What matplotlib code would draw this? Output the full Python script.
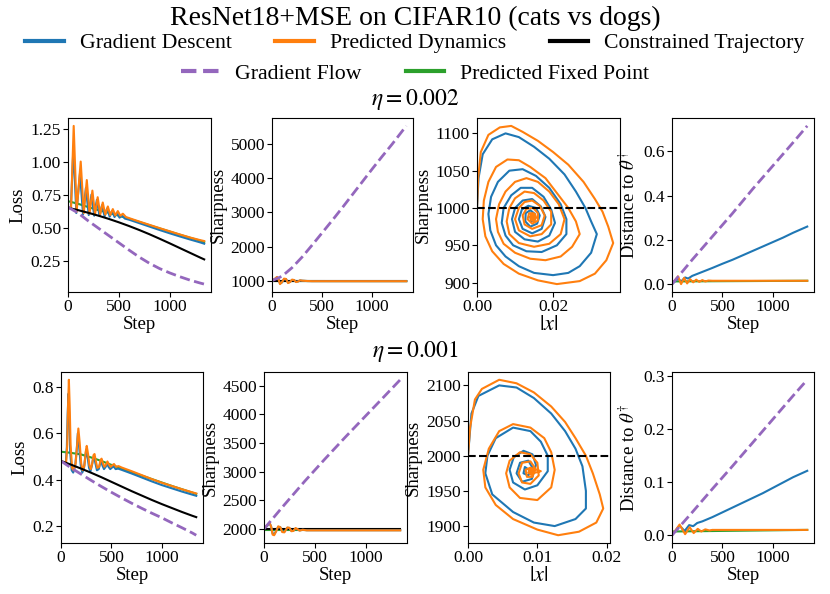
import matplotlib
matplotlib.use("Agg")
import matplotlib.pyplot as plt
from matplotlib.lines import Line2D

plt.rcParams['font.family'] = 'serif'
plt.rcParams['font.serif'] = ['Liberation Serif', 'DejaVu Serif']
plt.rcParams['mathtext.fontset'] = 'stix'

# ---------------- data: eta = 0.002 ----------------
eta_labels = [r'$\eta = 0.002$', r'$\eta = 0.001$']
sharp_threshold = [1000, 2000]

smooth_steps = [0, 100, 200, 300, 400, 500, 600, 700, 800, 900, 1000, 1100, 1200, 1300, 1340]

gf_loss1 = [0.655, 0.61, 0.55, 0.495, 0.44, 0.385, 0.33, 0.277, 0.23, 0.19, 0.157, 0.128, 0.102, 0.08, 0.072]
ct_loss1 = [0.65, 0.632, 0.612, 0.59, 0.566, 0.54, 0.512, 0.482, 0.45, 0.416, 0.381, 0.345, 0.309, 0.273, 0.259]
fp_loss1 = [0.70, 0.68, 0.655, 0.632, 0.612, 0.59, 0.567, 0.543, 0.518, 0.494, 0.47, 0.446, 0.423, 0.401, 0.39]

pd_loss1_steps = [0, 30, 56, 85, 125, 155, 185, 212, 240, 266, 292, 317, 342, 367, 392, 416, 441, 465,
                  490, 515, 540, 570, 600, 700, 800, 900, 1000, 1100, 1200, 1300, 1340]
pd_loss1 = [0.655, 0.645, 1.27, 0.62, 1.00, 0.61, 0.86, 0.605, 0.78, 0.60, 0.73, 0.60, 0.69, 0.598, 0.66,
            0.595, 0.64, 0.592, 0.625, 0.59, 0.605, 0.58, 0.572, 0.546, 0.521, 0.496, 0.472, 0.448, 0.425,
            0.405, 0.398]
gd_loss1_steps = [0, 28, 53, 82, 118, 148, 176, 204, 231, 258, 284, 310, 335, 360, 385, 410, 434, 458,
                  482, 507, 532, 560, 600, 700, 800, 900, 1000, 1100, 1200, 1300, 1340]
gd_loss1 = [0.655, 0.645, 1.10, 0.61, 0.91, 0.60, 0.80, 0.595, 0.75, 0.59, 0.71, 0.588, 0.67, 0.585, 0.645,
            0.583, 0.625, 0.58, 0.61, 0.575, 0.59, 0.568, 0.56, 0.534, 0.508, 0.482, 0.457, 0.433, 0.41,
            0.388, 0.378]

gf_sharp1 = [1000, 1130, 1380, 1690, 2040, 2400, 2760, 3130, 3510, 3890, 4270, 4640, 5000, 5380, 5530]
osc_steps1 = [0, 30, 50, 65, 80, 100, 120, 140, 160, 180, 200, 220, 240, 260, 280, 300, 350, 400, 1340]
pd_sharp1 = [1000, 1060, 1110, 1040, 900, 960, 1060, 1050, 930, 960, 1030, 1020, 960, 975, 1010, 1000, 990, 985, 985]
gd_sharp1 = [1000, 1050, 1095, 1050, 915, 950, 1045, 1045, 945, 965, 1020, 1015, 970, 980, 1005, 998, 990, 988, 988]
ends = [0, 1340]
ct_sharp1 = [1000, 1000]
fp_sharp1 = [990, 988]

pd_x1 = [0.000, 0.0003, 0.001, 0.003, 0.006, 0.009, 0.012, 0.016, 0.020, 0.024, 0.028, 0.031, 0.033, 0.0345,
         0.0358, 0.034, 0.031, 0.027, 0.021, 0.016, 0.011, 0.007, 0.004, 0.0022, 0.0015, 0.0018, 0.003, 0.005,
         0.008, 0.011, 0.014, 0.018, 0.021, 0.024, 0.026, 0.027, 0.025, 0.022, 0.018, 0.014, 0.010, 0.007,
         0.0055, 0.005, 0.0058, 0.0075, 0.010,
         0.013, 0.016, 0.019, 0.0215, 0.023, 0.022, 0.019, 0.015, 0.011, 0.0085, 0.0078, 0.0085, 0.010,
         0.0125, 0.015, 0.0175, 0.0195, 0.0195, 0.017, 0.014, 0.011, 0.010, 0.011, 0.0125,
         0.0145, 0.0165, 0.0178, 0.017, 0.0145, 0.0125, 0.012, 0.013,
         0.0148, 0.016, 0.016, 0.0145, 0.0133, 0.0137, 0.0148, 0.0152, 0.0147, 0.0141, 0.0143, 0.0150,
         0.0152, 0.0155, 0.0150, 0.0143, 0.0141, 0.0146, 0.0151, 0.0152, 0.0147, 0.0144, 0.0148, 0.0150]
pd_s1 = [1000, 1040, 1075, 1098, 1108, 1110, 1102, 1090, 1075, 1058, 1035, 1012, 995, 975,
         953, 930, 912, 902, 898, 903, 912, 925, 942, 962, 985, 1010, 1035, 1055,
         1065, 1064, 1055, 1040, 1020, 1000, 982, 965, 948, 935, 930, 932, 940, 952,
         968, 985, 1005, 1022, 1035,
         1040, 1035, 1022, 1005, 985, 965, 952, 948, 953, 965, 982, 1000, 1013,
         1022, 1020, 1010, 995, 978, 965, 962, 970, 985, 1000, 1008,
         1010, 1003, 990, 977, 972, 978, 990, 999,
         1000, 993, 983, 979, 985, 993, 993, 988, 983, 986, 992, 990,
         992, 987, 983, 984, 989, 992, 990, 986, 984, 987, 990, 987]
gd_x1 = [0.0, 0.0004, 0.0015, 0.004, 0.0075, 0.011, 0.015, 0.019, 0.023, 0.026, 0.0285, 0.030, 0.0315,
         0.030, 0.027, 0.024, 0.020, 0.015, 0.011, 0.0075, 0.005, 0.0035, 0.003, 0.0037, 0.0055,
         0.0085, 0.012, 0.0155, 0.019, 0.022, 0.0235, 0.0235, 0.021, 0.017, 0.013, 0.0095, 0.0075, 0.0065,
         0.007, 0.009,
         0.0115, 0.0145, 0.0175, 0.0195, 0.0205, 0.019, 0.016, 0.0125, 0.010, 0.0092, 0.010,
         0.012, 0.0145, 0.0168, 0.018, 0.017, 0.0145, 0.012, 0.011, 0.0118,
         0.0135, 0.0155, 0.0165, 0.0158, 0.014, 0.0127, 0.0128, 0.014, 0.0152, 0.0152, 0.0143, 0.014]
gd_s1 = [1000, 1040, 1072, 1092, 1100, 1095, 1082, 1066, 1045, 1022, 1000, 982, 965,
         940, 922, 913, 910, 913, 922, 935, 950, 970, 992, 1015, 1035,
         1050, 1052, 1043, 1027, 1005, 985, 965, 950, 941, 942, 950, 963, 980,
         1000, 1017,
         1027, 1027, 1015, 998, 980, 963, 955, 958, 968, 985, 1000,
         1010, 1012, 1002, 988, 972, 966, 972, 985, 998,
         1003, 1000, 990, 979, 975, 982, 993, 997, 992, 984, 982, 988]

dist_steps = [0, 200, 400, 600, 800, 1000, 1200, 1340]
gf_dist1 = [0.0, 0.11, 0.215, 0.32, 0.43, 0.535, 0.64, 0.715]
gd_dist1_steps = [0, 60, 90, 130, 160, 200, 300, 400, 500, 600, 700, 800, 900, 1000, 1100, 1200, 1340]
gd_dist1 = [0.0, 0.025, 0.012, 0.03, 0.025, 0.037, 0.055, 0.073, 0.092, 0.11, 0.13, 0.15, 0.17, 0.19, 0.21, 0.232, 0.26]
pd_dist1_steps = [0, 60, 90, 120, 150, 180, 210, 240, 270, 300, 330, 360, 400, 1340]
pd_dist1 = [0.0, 0.035, 0.0, 0.028, 0.003, 0.022, 0.008, 0.02, 0.01, 0.018, 0.012, 0.016, 0.015, 0.015]
fp_dist1 = [0.012, 0.015]

# ---------------- data: eta = 0.001 ----------------
gf_loss2 = [0.48, 0.45, 0.423, 0.396, 0.37, 0.345, 0.321, 0.298, 0.276, 0.255, 0.235, 0.213, 0.192, 0.17, 0.16]
ct_loss2 = [0.48, 0.464, 0.447, 0.429, 0.41, 0.39, 0.37, 0.35, 0.331, 0.312, 0.294, 0.277, 0.26, 0.244, 0.238]
fp_loss2 = [0.52, 0.515, 0.508, 0.495, 0.48, 0.463, 0.447, 0.432, 0.417, 0.402, 0.387, 0.372, 0.358, 0.344, 0.338]

pd_loss2_steps = [0, 50, 62, 70, 78, 86, 95, 110, 125, 145, 160, 172, 185, 200, 215, 232, 245, 255, 268,
                  282, 295, 310, 322, 332, 345, 360, 378, 392, 402, 415, 430, 447, 460, 475, 492, 510,
                  525, 545, 570, 600, 700, 800, 900, 1000, 1100, 1200, 1300, 1340]
pd_loss2 = [0.48, 0.47, 0.55, 0.72, 0.83, 0.72, 0.55, 0.45, 0.44, 0.47, 0.55, 0.62, 0.56, 0.47, 0.44,
            0.46, 0.52, 0.545, 0.51, 0.46, 0.445, 0.47, 0.505, 0.51, 0.48, 0.45, 0.455, 0.485, 0.49,
            0.47, 0.455, 0.465, 0.478, 0.465, 0.455, 0.462, 0.467, 0.455, 0.458, 0.452, 0.436, 0.419,
            0.402, 0.386, 0.372, 0.358, 0.345, 0.34]
gd_loss2_steps = [0, 48, 58, 66, 74, 82, 91, 106, 121, 141, 156, 167, 180, 196, 211, 228, 241, 251, 264,
                  278, 291, 306, 318, 328, 341, 356, 374, 388, 398, 411, 426, 443, 456, 471, 488, 506,
                  521, 541, 566, 600, 700, 800, 900, 1000, 1100, 1200, 1300, 1340]
gd_loss2 = [0.48, 0.47, 0.54, 0.68, 0.77, 0.67, 0.52, 0.44, 0.43, 0.46, 0.53, 0.60, 0.54, 0.46, 0.43,
            0.45, 0.50, 0.53, 0.495, 0.45, 0.435, 0.46, 0.49, 0.50, 0.47, 0.44, 0.445, 0.47, 0.48,
            0.46, 0.445, 0.455, 0.468, 0.455, 0.445, 0.452, 0.457, 0.445, 0.447, 0.442, 0.426, 0.409,
            0.392, 0.376, 0.362, 0.348, 0.335, 0.33]

gf_sharp2_steps = [0, 200, 400, 600, 800, 1000, 1200, 1340]
gf_sharp2 = [2000, 2420, 2830, 3220, 3600, 3970, 4340, 4600]
osc_steps2 = [0, 30, 55, 70, 85, 100, 120, 140, 160, 180, 200, 230, 250, 270, 290, 310, 330, 350, 380, 420, 1340]
pd_sharp2 = [2000, 2060, 2110, 2040, 1900, 1890, 1960, 2045, 2030, 1945, 1940, 2025, 2020, 1960, 1965,
             2015, 1995, 1970, 1985, 1975, 1975]
gd_sharp2 = [2000, 2050, 2100, 2040, 1920, 1905, 1965, 2035, 2030, 1955, 1950, 2020, 2015, 1965, 1970,
             2005, 1990, 1975, 1985, 1978, 1978]
ct_sharp2 = [2000, 2000]
fp_sharp2 = [1978, 1978]

pd_x2 = [0.0, 0.0003, 0.001, 0.002, 0.0045, 0.007, 0.0095, 0.012, 0.014, 0.0155, 0.017, 0.018, 0.019, 0.0195,
         0.0185, 0.016, 0.013, 0.010, 0.0065, 0.004, 0.0025, 0.0022, 0.003, 0.0045, 0.0065, 0.009, 0.011,
         0.012, 0.0125, 0.012, 0.010, 0.0075, 0.006, 0.0055, 0.006, 0.0075, 0.009, 0.010, 0.0102, 0.009,
         0.0078, 0.0073, 0.0078, 0.009, 0.0097, 0.0093, 0.0085, 0.0083, 0.009, 0.0105, 0.0093, 0.009,
         0.0088, 0.0092, 0.0095, 0.0091, 0.0087, 0.0089, 0.0093]
pd_s2 = [2000, 2040, 2080, 2095, 2108, 2103, 2090, 2070, 2048, 2025, 2000, 1975, 1945, 1925,
         1905, 1892, 1887, 1895, 1910, 1930, 1955, 1980, 2010, 2035, 2045, 2040, 2025,
         2005, 1980, 1955, 1937, 1940, 1955, 1975, 1993, 2005, 2002, 1990, 1972, 1960,
         1962, 1975, 1990, 1992, 1982, 1970, 1970, 1980, 1983, 1978, 1975, 1977,
         1980, 1981, 1976, 1973, 1976, 1980, 1978]
gd_x2 = [0.0, 0.0005, 0.0015, 0.0045, 0.007, 0.0095, 0.012, 0.014, 0.0155, 0.0165, 0.017, 0.017, 0.0155,
         0.0125, 0.0095, 0.0065, 0.0035, 0.0025, 0.0028, 0.004, 0.0065, 0.009, 0.0105, 0.0115, 0.0115,
         0.010, 0.0082, 0.0065, 0.006, 0.0066, 0.008, 0.0093, 0.0098, 0.0092, 0.0078, 0.007, 0.0075,
         0.0087, 0.0093, 0.0087, 0.008, 0.0082, 0.0088]
gd_s2 = [2000, 2060, 2085, 2100, 2097, 2082, 2060, 2035, 2010, 1985, 1950, 1925, 1910,
         1900, 1905, 1920, 1945, 1975, 2000, 2025, 2040, 2035, 2020, 2000, 1978,
         1958, 1952, 1962, 1980, 1998, 2007, 2002, 1987, 1967, 1963, 1975, 1990,
         1993, 1983, 1972, 1975, 1984, 1980]

gf_dist2 = [0.0, 0.043, 0.087, 0.13, 0.174, 0.218, 0.262, 0.292]
gd_dist2_steps = [0, 75, 125, 170, 210, 250, 300, 400, 500, 600, 700, 800, 900, 1000, 1100, 1200, 1340]
gd_dist2 = [0.0, 0.018, 0.008, 0.019, 0.017, 0.023, 0.026, 0.034, 0.043, 0.052, 0.061, 0.07, 0.079, 0.089,
            0.099, 0.109, 0.121]
pd_dist2_steps = [0, 75, 130, 175, 215, 255, 290, 330, 370, 400, 1340]
pd_dist2 = [0.0, 0.02, 0.002, 0.015, 0.004, 0.012, 0.007, 0.011, 0.009, 0.010, 0.010]
fp_dist2 = [0.007, 0.010]

step_ticks = [0, 500, 1000]
loss_ticks = [[0.25, 0.50, 0.75, 1.00, 1.25], [0.2, 0.4, 0.6, 0.8]]
sharp_ticks = [[1000, 2000, 3000, 4000, 5000], [2000, 2500, 3000, 3500, 4000, 4500]]
spiral_yticks = [[900, 950, 1000, 1050, 1100], [1900, 1950, 2000, 2050, 2100]]
spiral_xticks = [[0.00, 0.02], [0.00, 0.01, 0.02]]
dist_ticks = [[0.0, 0.2, 0.4, 0.6], [0.0, 0.1, 0.2, 0.3]]

# ---------------- styling ----------------
C_GD = '#1f77b4'
C_PD = '#ff7f0e'
C_CT = 'black'
C_GF = '#9467bd'
C_FP = '#2ca02c'
LW = 1.5
FS = 12.5
LFS = 13.5

W, H = 830.0, 594.0
fig = plt.figure(figsize=(8.3, 5.94), dpi=100)

def box(l, r, t, b):
    return [l / W, 1 - b / H, (r - l) / W, (b - t) / H]

pos = [
    [box(68, 211, 118, 292), box(272, 413, 118, 292), box(477, 620, 118, 292), box(672, 814, 118, 292)],
    [box(61, 203, 372, 543), box(264, 407, 372, 543), box(468, 610, 372, 543), box(672, 814, 372, 543)],
]

rows = [
    dict(gf_loss=gf_loss1, ct_loss=ct_loss1, fp_loss=fp_loss1,
         pd_ls=pd_loss1_steps, pd_loss=pd_loss1, gd_ls=gd_loss1_steps, gd_loss=gd_loss1,
         gf_ss=smooth_steps, gf_sharp=gf_sharp1, osc=osc_steps1, pd_sharp=pd_sharp1, gd_sharp=gd_sharp1,
         ct_sharp=ct_sharp1, fp_sharp=fp_sharp1,
         pd_x=pd_x1, pd_s=pd_s1, gd_x=gd_x1, gd_s=gd_s1,
         gf_dist=gf_dist1, gd_ds=gd_dist1_steps, gd_dist=gd_dist1, pd_ds=pd_dist1_steps, pd_dist=pd_dist1,
         fp_dist=fp_dist1),
    dict(gf_loss=gf_loss2, ct_loss=ct_loss2, fp_loss=fp_loss2,
         pd_ls=pd_loss2_steps, pd_loss=pd_loss2, gd_ls=gd_loss2_steps, gd_loss=gd_loss2,
         gf_ss=gf_sharp2_steps, gf_sharp=gf_sharp2, osc=osc_steps2, pd_sharp=pd_sharp2, gd_sharp=gd_sharp2,
         ct_sharp=ct_sharp2, fp_sharp=fp_sharp2,
         pd_x=pd_x2, pd_s=pd_s2, gd_x=gd_x2, gd_s=gd_s2,
         gf_dist=gf_dist2, gd_ds=gd_dist2_steps, gd_dist=gd_dist2, pd_ds=pd_dist2_steps, pd_dist=pd_dist2,
         fp_dist=fp_dist2),
]

for r, d in enumerate(rows):
    axs = [fig.add_axes(p) for p in pos[r]]
    # Loss
    ax = axs[0]
    ax.plot(smooth_steps, d['fp_loss'], color=C_FP, lw=LW)
    ax.plot(d['gd_ls'], d['gd_loss'], color=C_GD, lw=LW)
    ax.plot(d['pd_ls'], d['pd_loss'], color=C_PD, lw=LW)
    ax.plot(smooth_steps, d['ct_loss'], color=C_CT, lw=LW)
    ax.plot(smooth_steps, d['gf_loss'], color=C_GF, lw=2, ls='--')
    ax.set_yticks(loss_ticks[r])
    ax.set_ylabel('Loss', fontsize=LFS)
    # Sharpness
    ax = axs[1]
    ax.plot(ends, d['fp_sharp'], color=C_FP, lw=LW)
    ax.plot(ends, d['ct_sharp'], color=C_CT, lw=LW)
    ax.plot(d['osc'], d['gd_sharp'], color=C_GD, lw=LW)
    ax.plot(d['osc'], d['pd_sharp'], color=C_PD, lw=LW)
    ax.plot(d['gf_ss'], d['gf_sharp'], color=C_GF, lw=2, ls='--')
    ax.set_yticks(sharp_ticks[r])
    ax.set_ylabel('Sharpness', fontsize=LFS)
    # Spiral
    ax = axs[2]
    ax.plot(d['gd_x'], d['gd_s'], color=C_GD, lw=LW)
    ax.plot(d['pd_x'], d['pd_s'], color=C_PD, lw=LW)
    ax.axhline(sharp_threshold[r], color='black', lw=LW, ls='--')
    ax.set_xlim(left=0)
    ax.set_xticks(spiral_xticks[r])
    ax.set_yticks(spiral_yticks[r])
    ax.set_ylabel('Sharpness', fontsize=LFS)
    ax.set_xlabel(r'$|x|$', fontsize=16)
    # Distance
    ax = axs[3]
    ax.plot(ends, d['fp_dist'], color=C_FP, lw=LW)
    ax.plot(d['gd_ds'], d['gd_dist'], color=C_GD, lw=LW)
    ax.plot(d['pd_ds'], d['pd_dist'], color=C_PD, lw=LW)
    ax.plot(dist_steps, d['gf_dist'], color=C_GF, lw=2, ls='--')
    ax.set_yticks(dist_ticks[r])
    ax.set_ylabel(r'Distance to $\theta^{\dagger}$', fontsize=LFS)

    for i, ax in enumerate(axs):
        ax.tick_params(labelsize=FS, pad=1.5)
        if i != 2:
            ax.set_xlim(left=0)
            ax.set_xticks(step_ticks)
            ax.set_xlabel('Step', fontsize=LFS)
        ax.xaxis.labelpad = 1
        ax.yaxis.labelpad = 3

fig.text(0.5, 1 - 100 / H, eta_labels[0], ha='center', va='center', fontsize=17)
fig.text(0.5, 1 - 352 / H, eta_labels[1], ha='center', va='center', fontsize=17)
fig.text(0.5, 1 - 18 / H, 'ResNet18+MSE on CIFAR10 (cats vs dogs)', ha='center', va='center', fontsize=20)

h1 = [Line2D([], [], color=C_GD, lw=3), Line2D([], [], color=C_PD, lw=3), Line2D([], [], color=C_CT, lw=3)]
l1 = ['Gradient Descent', 'Predicted Dynamics', 'Constrained Trajectory']
h2 = [Line2D([], [], color=C_GF, lw=3, ls='--'), Line2D([], [], color=C_FP, lw=3)]
l2 = ['Gradient Flow', 'Predicted Fixed Point']
fig.legend(h1, l1, loc='center', bbox_to_anchor=(0.5, 1 - 43 / H), ncol=3, frameon=False,
           fontsize=15.7, handlelength=1.75, handletextpad=0.75, columnspacing=2.0, borderpad=0)
fig.legend(h2, l2, loc='center', bbox_to_anchor=(0.5, 1 - 74 / H), ncol=2, frameon=False,
           fontsize=15.7, handlelength=1.75, handletextpad=0.75, columnspacing=2.0, borderpad=0)

fig.savefig('out.png', dpi=100)
